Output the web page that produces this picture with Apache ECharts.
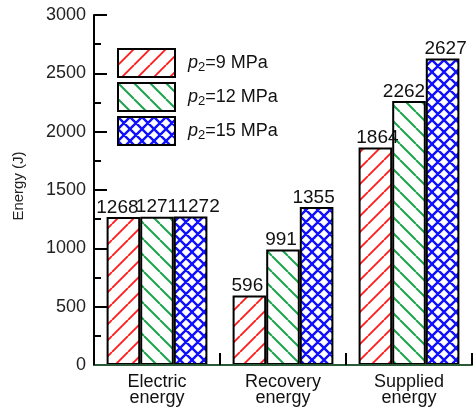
<!DOCTYPE html>
<html>
<head>
<meta charset="utf-8">
<script src="https://cdn.jsdelivr.net/npm/echarts@6/dist/echarts.min.js"></script>
<style>
  html, body { margin: 0; padding: 0; background: #fff; }
  #chart { width: 473px; height: 410px; }
</style>
</head>
<body>
<div id="chart"></div>
<script>
// Energy breakdown for three outlet pressures
const categories = ['Electric\nenergy', 'Recovery\nenergy', 'Supplied\nenergy'];
const seriesNames = ['p2=9 MPa', 'p2=12 MPa', 'p2=15 MPa'];
const energyP9 = [1268, 596, 1864];
const energyP12 = [1271, 991, 2262];
const energyP15 = [1272, 1355, 2627];
const yMin = 0, yMax = 3000, yStep = 500;

// small horizontal nudges so neighbouring value labels do not collide
const labelNudge = [[-6, -2, 2], [0, -2, -5], [8, -3, 3]];

const FONT = 'Liberation Sans';

// hatch fills drawn on small repeating canvases
function hatch(color, lineWidth, size, kind) {
  const c = document.createElement('canvas');
  c.width = size; c.height = size;
  const g = c.getContext('2d');
  g.fillStyle = '#fff';
  g.fillRect(0, 0, size, size);
  g.strokeStyle = color;
  g.lineWidth = lineWidth;
  g.beginPath();
  for (let k = -1; k <= 1; k++) {
    if (kind === 'fwd' || kind === 'cross') {
      g.moveTo(k * size, size);
      g.lineTo(k * size + size, 0);
    }
    if (kind === 'back' || kind === 'cross') {
      g.moveTo(k * size, 0);
      g.lineTo(k * size + size, size);
    }
  }
  g.stroke();
  return { image: c, repeat: 'repeat' };
}

const fills = [
  hatch('#ff1a1a', 1.8, 16, 'fwd'),
  hatch('#1ea34f', 2.0, 16, 'back'),
  hatch('#1010ff', 2.4, 12, 'cross')
];
const values = [energyP9, energyP12, energyP15];

const series = seriesNames.map((name, s) => ({
  name: name,
  type: 'bar',
  barGap: '0%',
  barCategoryGap: '20%',
  itemStyle: { color: fills[s], borderColor: '#000', borderWidth: 2 },
  label: {
    show: true,
    position: 'top',
    distance: 0,
    fontFamily: FONT,
    fontSize: 19,
    color: '#111'
  },
  data: values[s].map((v, i) => ({ value: v, label: { offset: [labelNudge[s][i], 0] } }))
}));

const chart = echarts.init(document.getElementById('chart'), null, { renderer: 'canvas' });
chart.setOption({
  animation: false,
  backgroundColor: '#fff',
  grid: { left: 94, right: 1, top: 15, bottom: 45, outerBoundsMode: 'none' },
  legend: {
    orient: 'vertical',
    left: 117,
    top: 48,
    padding: 0,
    icon: 'rect',
    itemWidth: 57,
    itemHeight: 28,
    itemGap: 4,
    itemStyle: { borderColor: '#000', borderWidth: 2 },
    data: seriesNames,
    formatter: name => name.replace(/^p2(.*)$/, '{i|p}{s|2}{n|$1}'),
    textStyle: {
      fontFamily: FONT,
      fontSize: 17,
      color: '#111',
      padding: [0, 0, 0, 8],
      rich: {
        i: { fontFamily: FONT, fontSize: 18, fontStyle: 'italic', color: '#111' },
        s: { fontFamily: FONT, fontSize: 13, color: '#111', padding: [8, 0, 0, 0] },
        n: { fontFamily: FONT, fontSize: 18, color: '#111' }
      }
    }
  },
  xAxis: [
    {
      type: 'category',
      data: categories,
      z: 5,
      axisLine: { lineStyle: { color: '#2b5a37', width: 2 } },
      axisTick: { alignWithLabel: true, inside: true, length: 23, lineStyle: { color: '#000', width: 2 } },
      axisLabel: { fontFamily: FONT, fontSize: 18, lineHeight: 16, color: '#111', margin: 9 }
    },
    {
      type: 'value',
      min: 0,
      max: categories.length,
      interval: 1,
      position: 'bottom',
      z: 5,
      axisLine: { show: false },
      axisTick: { inside: true, length: 12, lineStyle: { color: '#000', width: 2 } },
      axisLabel: { show: false },
      splitLine: { show: false }
    }
  ],
  yAxis: {
    type: 'value',
    min: yMin,
    max: yMax,
    interval: yStep,
    name: 'Energy (J)',
    nameLocation: 'middle',
    nameGap: 68,
    nameTextStyle: { fontFamily: FONT, fontSize: 15, color: '#222', padding: [0, 0, 0, 8] },
    axisLine: { show: true, lineStyle: { color: '#000', width: 2 } },
    axisTick: { show: true, inside: true, length: 13, lineStyle: { color: '#000', width: 2 } },
    minorTick: { show: true, splitNumber: 2, length: 7, lineStyle: { color: '#000', width: 2 } },
    splitLine: { show: false },
    axisLabel: { fontFamily: FONT, fontSize: 18, color: '#222', margin: 8, formatter: v => String(v) }
  },
  series: series
});
</script>
</body>
</html>
